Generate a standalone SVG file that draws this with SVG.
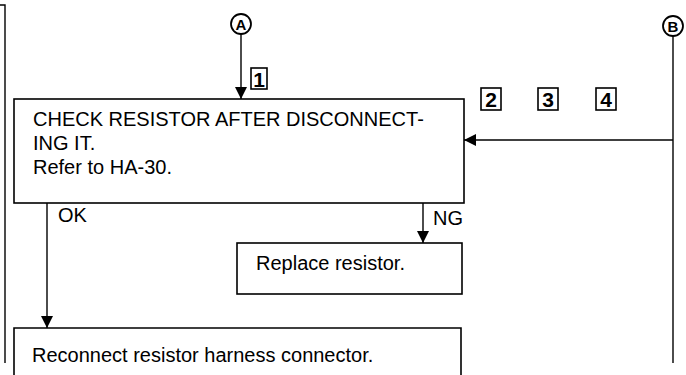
<svg xmlns="http://www.w3.org/2000/svg" width="686" height="375" viewBox="0 0 686 375">
<style>
.box{fill:none;stroke:#000;stroke-width:1.6}
.ln{fill:none;stroke:#000;stroke-width:1.4}
.t{font-family:"Liberation Sans",Arial,sans-serif;font-size:20px;fill:#000}
.num{font-family:"Liberation Sans",Arial,sans-serif;font-size:21px;font-weight:bold;fill:#000;text-anchor:middle}
.circ{fill:#fff;stroke:#000;stroke-width:1.8}
.cl{font-family:"Liberation Sans",Arial,sans-serif;font-size:15px;font-weight:bold;fill:#000;text-anchor:middle}
</style>
<defs>
<marker id="ah" markerWidth="12" markerHeight="14" refX="12" refY="7" orient="auto" markerUnits="userSpaceOnUse">
<path d="M0,1 L12,7 L0,13 Z" fill="#000"/>
</marker>
</defs>
<rect width="686" height="375" fill="#fff"/>
<g id="connectors">
<path class="ln" d="M0,5 H5 V363"/>
<path class="ln" d="M241,34 V99" marker-end="url(#ah)"/>
<path class="ln" d="M673,36 V363"/>
<path class="ln" d="M673,140 H464" marker-end="url(#ah)"/>
<path class="ln" d="M47,203 V328" marker-end="url(#ah)"/>
<path class="ln" d="M423,203 V243" marker-end="url(#ah)"/>
<text class="t" x="58" y="222">OK</text>
<text class="t" x="433" y="225">NG</text>
</g>
<g id="nodeA">
<circle class="circ" cx="241" cy="24" r="10"/>
<text class="cl" x="241" y="29.5">A</text>
</g>
<g id="nodeB">
<circle class="circ" cx="673" cy="26" r="10"/>
<text class="cl" x="673" y="31.5">B</text>
</g>
<g id="step1">
<rect class="box" x="251" y="68" width="16" height="21"/>
<text class="num" x="259" y="86.5">1</text>
</g>
<g id="step2">
<rect class="box" x="481" y="88" width="20" height="22"/>
<text class="num" x="491" y="107">2</text>
</g>
<g id="step3">
<rect class="box" x="538" y="88" width="20" height="22"/>
<text class="num" x="548" y="107">3</text>
</g>
<g id="step4">
<rect class="box" x="596" y="88" width="20" height="22"/>
<text class="num" x="606" y="107">4</text>
</g>
<g id="check">
<rect class="box" x="14" y="99" width="450" height="104"/>
<text class="t" x="33" y="126">CHECK RESISTOR AFTER DISCONNECT-</text>
<text class="t" x="33" y="150">ING IT.</text>
<text class="t" x="33" y="174">Refer to HA-30.</text>
</g>
<g id="replace">
<rect class="box" x="237" y="243" width="225" height="51"/>
<text class="t" x="256" y="270">Replace resistor.</text>
</g>
<g id="reconnect">
<path class="box" d="M14,380 V328 H461 V380"/>
<text class="t" x="32" y="362">Reconnect resistor harness connector.</text>
</g>
</svg>
